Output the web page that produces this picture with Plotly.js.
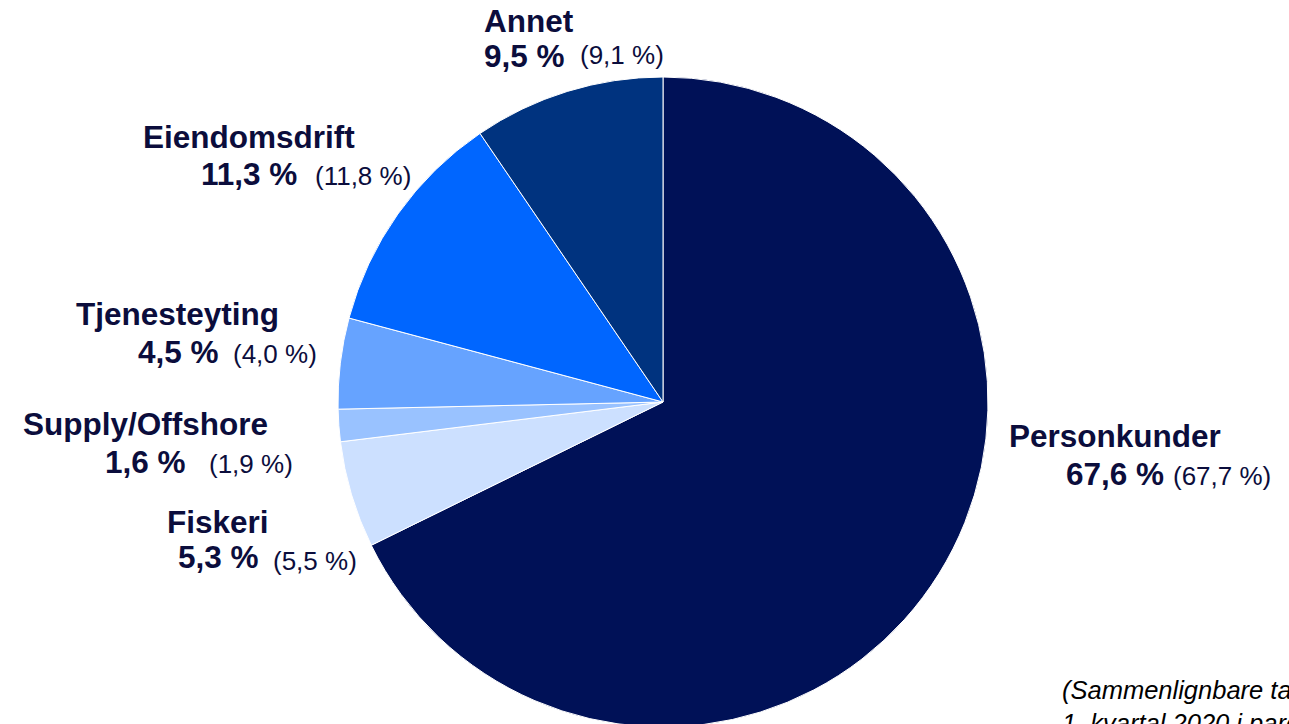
<!DOCTYPE html>
<html>
<head>
<meta charset="utf-8">
<script src="https://cdn.plot.ly/plotly-3.0.1.min.js"></script>
<style>
html,body{margin:0;padding:0;overflow:hidden;background:#fff;}
#chart{width:1289px;height:760px;}
</style>
</head>
<body>
<div id="chart"></div>
<script>
// ---- data ----
const categories = ['Personkunder', 'Fiskeri', 'Supply/Offshore', 'Tjenesteyting', 'Eiendomsdrift', 'Annet'];
const sharesCurrent = [67.6, 5.3, 1.6, 4.5, 11.3, 9.5];
const sharesPrevious = [67.7, 5.5, 1.9, 4.0, 11.8, 9.1];
const sliceColors = ['#001157', '#CCE0FF', '#99C2FF', '#66A3FF', '#0066FF', '#00337F'];
const footnote = '(Sammenlignbare tall for<br>1. kvartal 2020 i parentes)';

// ---- layout: label anchor points in pixels [left x, baseline y] ----
const namePos = [[1008, 447], [166, 533], [22, 435], [75, 325], [142, 148], [483, 32]];
const pctPos  = [[1065, 485], [177, 568], [104, 473], [137, 363], [200, 185], [483, 67]];
const prevPos = [[1172, 485], [272, 570], [208, 473], [232, 363], [314, 185], [579, 64]];

const W = 1289, H = 760;
const CX = 663, CY = 402, R = 325;
const fmt = v => v.toFixed(1).replace('.', ',') + ' %';
const textColor = '#0B0D3C';
const BOLD = 31.5, REG = 26;

function ann(text, px, baseline, size, color, extra) {
  const cy = baseline - 0.35 * size;
  return Object.assign({
    xref: 'paper', yref: 'paper',
    x: px / W, y: 1 - cy / H,
    xanchor: 'left', yanchor: 'middle',
    text: text, showarrow: false, borderpad: 0,
    font: {family: 'Liberation Sans, Arial, sans-serif', size: size, color: color}
  }, extra || {});
}

const annotations = [];
categories.forEach((c, i) => {
  annotations.push(ann('<b>' + c + '</b>', namePos[i][0], namePos[i][1], BOLD, textColor));
  annotations.push(ann('<b>' + fmt(sharesCurrent[i]) + '</b>', pctPos[i][0], pctPos[i][1], BOLD, textColor));
  annotations.push(ann('(' + fmt(sharesPrevious[i]) + ')', prevPos[i][0], prevPos[i][1], REG, textColor));
});
annotations.push({
  xref: 'paper', yref: 'paper',
  x: 1061 / W, y: 1 - 675 / H,
  xanchor: 'left', yanchor: 'top', align: 'left',
  text: '<i>' + footnote + '</i>', showarrow: false, borderpad: 0,
  font: {family: 'Liberation Sans, Arial, sans-serif', size: 25.5, color: '#000000'}
});

const trace = {
  type: 'pie',
  labels: categories,
  values: sharesCurrent,
  sort: false,
  direction: 'clockwise',
  rotation: 0,
  textinfo: 'none',
  hoverinfo: 'label+percent',
  marker: {colors: sliceColors, line: {color: '#FFFFFF', width: 1}},
  domain: {x: [(CX - R) / W, (CX + R) / W], y: [1 - (CY + R) / H, 1 - (CY - R) / H]}
};

const layout = {
  width: W, height: H,
  margin: {l: 0, r: 0, t: 0, b: 0},
  paper_bgcolor: '#FFFFFF',
  showlegend: false,
  annotations: annotations
};

Plotly.newPlot('chart', [trace], layout, {displayModeBar: false, staticPlot: true});
</script>
</body>
</html>
